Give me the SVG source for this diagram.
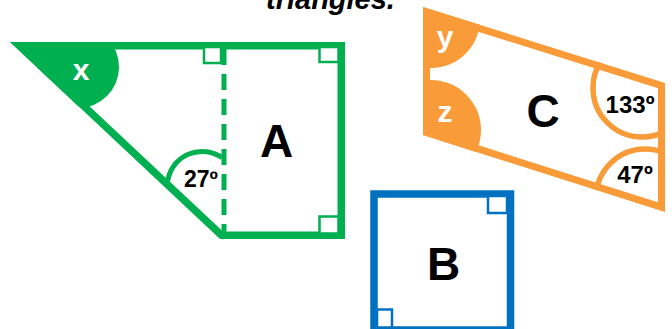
<svg xmlns="http://www.w3.org/2000/svg" width="672" height="329" viewBox="0 0 672 329">
<style>
.lbl{font-family:"Liberation Sans",Arial,sans-serif;font-weight:bold;text-anchor:middle;fill:#000}
.wl{font-family:"Liberation Sans",Arial,sans-serif;font-weight:bold;text-anchor:middle;fill:#fff}
.g{stroke:#00b050;fill:none}
.o{stroke:#f99b38;fill:none}
.b{stroke:#0070c0;fill:none}
.sq{stroke-width:2.5;fill:#fff}
</style>
<defs>
<clipPath id="clipA"><polygon points="10,42 345,42 345,239 220,239"/></clipPath>
<clipPath id="clipC"><polygon points="423,7 665,83 665,212 423,135"/></clipPath>
</defs>
<rect width="672" height="329" fill="#fff"/>
<text x="266" y="9" style="font-family:'Liberation Sans',Arial,sans-serif;font-weight:bold;font-style:italic;font-size:29px" fill="#000">triangles.</text>

<g id="shapeA">
<g clip-path="url(#clipA)" fill="#00b050">
<circle cx="78" cy="67" r="41"/>
<rect x="0" y="40" width="78" height="68"/>
</g>
<line x1="224" y1="49" x2="224" y2="232" class="g" stroke-width="5" stroke-dasharray="16 9" stroke-dashoffset="0"/>
<polygon points="19.5,45.75 341.25,45.75 341.25,235.25 221.5,235.25" class="g" stroke-width="7.5" stroke-linejoin="miter"/>
<path d="M167.7,181.2 A34.6,34.6 0 0 1 222,157.8" class="g" stroke-width="5"/>
<rect x="204" y="47" width="17" height="16" class="g sq"/>
<rect x="319.5" y="47" width="19" height="15" class="g sq"/>
<rect x="319.5" y="216.5" width="19" height="17" class="g sq"/>
<text x="81" y="80" class="wl" font-size="30">x</text>
<text x="201" y="186.5" class="lbl" font-size="23">27º</text>
<text x="276.5" y="156.5" class="lbl" font-size="46">A</text>
</g>

<g id="shapeC">
<g clip-path="url(#clipC)">
<circle cx="431" cy="19" r="49" fill="#f99b38"/>
<circle cx="431" cy="130" r="50" fill="#f99b38"/>
<circle cx="642" cy="88" r="49" class="o" stroke-width="5.5"/>
<circle cx="645" cy="198" r="49" class="o" stroke-width="5.5"/>
</g>
<polygon points="426.5,11.8 661.5,85.6 661.5,207.2 426.5,132.4" class="o" stroke-width="7" stroke-linejoin="miter"/>
<text x="445" y="47" class="wl" font-size="30">y</text>
<text x="445" y="121.5" class="wl" font-size="30">z</text>
<text x="543" y="126.5" class="lbl" font-size="46">C</text>
<text x="630" y="113" class="lbl" font-size="24">133º</text>
<text x="635" y="183" class="lbl" font-size="24">47º</text>
</g>

<g id="shapeB">
<rect x="374" y="194" width="136.5" height="136" class="b" stroke-width="7.5"/>
<rect x="488" y="196" width="19" height="17" class="b sq"/>
<rect x="377" y="309.5" width="15" height="18" class="b sq"/>
<text x="443.5" y="280" class="lbl" font-size="46">B</text>
</g>

<g id="connectors"/>
</svg>
